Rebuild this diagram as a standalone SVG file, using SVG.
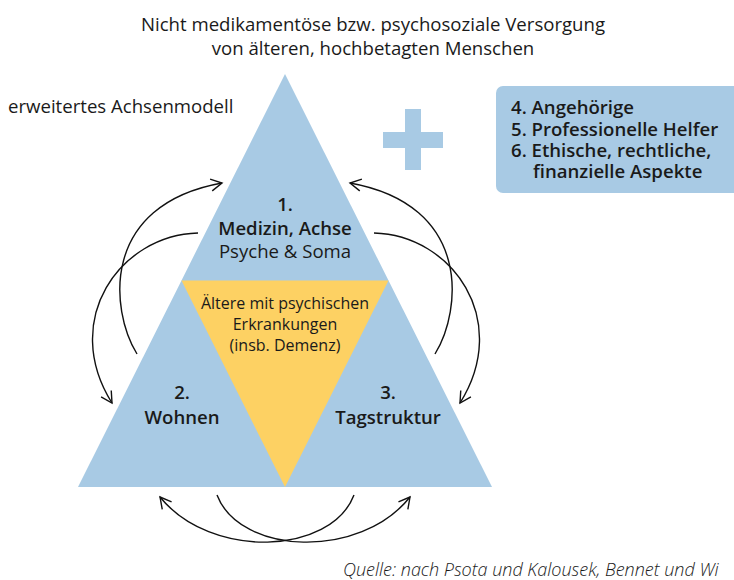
<svg xmlns="http://www.w3.org/2000/svg" width="734" height="580" viewBox="0 0 734 580">
<defs>
<style>
text{font-family:"Open Sans","Noto Sans","DejaVu Sans",sans-serif;fill:#1a1a1a}
.t{font-size:18.6px}
.b{font-weight:600}
.c{text-anchor:middle}
.bx{font-size:18.6px;font-weight:600}
.blue{fill:#a8cae4}
.yel{fill:#fdd163}
.arr{fill:none;stroke:#111;stroke-width:1.4;marker-end:url(#ah)}
</style>
<marker id="ah" viewBox="0 0 14 14" refX="12" refY="7" markerWidth="14" markerHeight="14" markerUnits="userSpaceOnUse" orient="auto">
<path d="M1,1 L12,7 L1,13" fill="none" stroke="#111" stroke-width="1.4"/>
</marker>
</defs>
<rect width="734" height="580" fill="#fff"/>
<g id="title">
<text class="t c" x="373" y="31">Nicht medikamentöse bzw. psychosoziale Versorgung</text>
<text class="t c" x="373" y="55">von älteren, hochbetagten Menschen</text>
</g>
<text id="modell" class="t" x="8" y="113">erweitertes Achsenmodell</text>
<g id="triangle">
<polygon class="blue" points="285,74 492,487 78,487"/>
</g>
<g id="node-center">
<polygon class="yel" points="181.5,280.5 388.5,280.5 285,487"/>
<text class="c" style="font-size:16px" x="285" y="309">Ältere mit psychischen</text>
<text class="c" style="font-size:16px" x="285" y="330">Erkrankungen</text>
<text class="c" style="font-size:16px" x="285" y="351">(insb. Demenz)</text>
</g>
<g id="node-1">
<text class="t b c" x="285" y="211">1.</text>
<text class="t b c" x="285" y="235">Medizin, Achse</text>
<text class="t c" x="285" y="258">Psyche &amp; Soma</text>
</g>
<g id="node-2">
<text class="t b c" x="182" y="399">2.</text>
<text class="t b c" x="182" y="424">Wohnen</text>
</g>
<g id="node-3">
<text class="t b c" x="388" y="399">3.</text>
<text class="t b c" x="388" y="424">Tagstruktur</text>
</g>
<g id="plus">
<rect class="blue" x="405" y="109" width="16" height="61"/>
<rect class="blue" x="383" y="132" width="60" height="16"/>
</g>
<g id="node-extra">
<rect class="blue" x="496" y="86" width="250" height="107" rx="7"/>
<text class="bx" x="511" y="114">4. Angehörige</text>
<text class="bx" x="511" y="136">5. Professionelle Helfer</text>
<text class="bx" x="511" y="157">6. Ethische, rechtliche,</text>
<text class="bx" x="533" y="178">finanzielle Aspekte</text>
</g>
<g id="connectors">
<path class="arr" d="M198,233 C120,235 60,320 112,403"/>
<path class="arr" d="M137,354 C110,310 100,205 222,183"/>
<path class="arr" d="M374,233 C452,235 512,320 460,403"/>
<path class="arr" d="M435,354 C462,310 472,205 350,183"/>
<path class="arr" d="M217,495 C240,555 360,560 410,497"/>
<path class="arr" d="M354,495 C331,555 211,560 160,497"/>
</g>
<text id="quelle" style="font-size:18px;font-style:italic;font-weight:300" x="343" y="576">Quelle: nach Psota und Kalousek, Bennet und Wi</text>
</svg>
